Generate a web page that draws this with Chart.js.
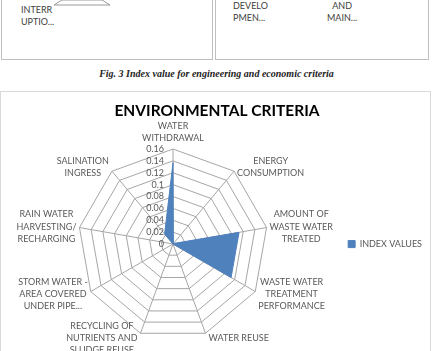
<!DOCTYPE html>
<html>
<head>
<meta charset="utf-8">
<script src="https://cdn.jsdelivr.net/npm/chart.js@4/dist/chart.umd.min.js"></script>
<style>
  body { margin: 0; width: 433px; height: 351px; overflow: hidden; background: #fff; position: relative; font-family: Lato, sans-serif; }
  .prev { position: absolute; top: -10px; height: 70px; border: 1px solid #bfbfbf; box-sizing: border-box; }
  .prev span { position: absolute; font-size: 9px; color: #404040; line-height: 12px; }
  #caption { position: absolute; top: 68px; left: 0; width: 433px; text-align: center; font: italic bold 10px "Liberation Serif", serif; color: #222; }
  #box { position: absolute; left: 0; top: 91px; width: 431px; height: 300px; border: 1px solid #d9d9d9; box-sizing: border-box; }
  #chart { position: absolute; left: -1px; top: -1px; }
</style>
</head>
<body>
<div class="prev" style="left:1px;width:212px;">
  <svg width="212" height="20" style="position:absolute;left:0;top:0">
    <polyline points="52,14 60,9 100,9 108,14 52,14" fill="none" stroke="#999" stroke-width="1"/>
  </svg>
  <span style="left:19px;top:13px;">INTERR<br>UPTIO...</span>
</div>
<div class="prev" style="left:215px;width:214px;">
  <span style="left:17px;top:9px;">DEVELO<br>PMEN...</span>
  <span style="left:111px;top:9px;text-align:center;">AND<br>MAIN...</span>
</div>
<div id="caption">Fig. 3 Index value for engineering and economic criteria</div>
<div id="box"><canvas id="chart" width="433" height="281"></canvas></div>
<script>
const categories = [
  ["WATER", "WITHDRAWAL"],
  ["ENERGY", "CONSUMPTION"],
  ["AMOUNT OF", "WASTE WATER", "TREATED"],
  ["WASTE WATER", "TREATMENT", "PERFORMANCE"],
  ["WATER REUSE"],
  ["RECYCLING OF", "NUTRIENTS AND", "SLUDGE REUSE"],
  ["STORM WATER -", "AREA COVERED", "UNDER PIPE..."],
  ["RAIN WATER", "HARVESTING/", "RECHARGING"],
  ["SALINATION", "INGRESS"]
];
const indexValues = [0.137, 0.001, 0.113, 0.113, 0, 0, 0, 0, 0.022];
const tickLabels = ["0", "0.02", "0.04", "0.06", "0.08", "0.1", "0.12", "0.14", "0.16"];

const textColor = "#595959";
const lineH = 12.2;

// excel style labels: ticks left of the vertical axis, category blocks centred beside each spoke
const excelLabels = {
  id: "excelLabels",
  afterDraw(chart) {
    const r = chart.scales.r;
    const ctx = chart.ctx;
    ctx.save();
    ctx.font = "9px Lato";
    ctx.fillStyle = textColor;
    ctx.textBaseline = "middle";

    ctx.textAlign = "right";
    r.ticks.forEach((t, i) => {
      const d = r.getDistanceFromCenterForValue(t.value);
      ctx.fillText(tickLabels[i], r.xCenter - 9, r.yCenter - d);
    });

    ctx.textAlign = "center";
    chart.data.labels.forEach((lines, i) => {
      const p = r.getPointPosition(i, r.drawingArea);
      const dx = p.x - r.xCenter;
      const dy = p.y - r.yCenter;
      const w = Math.max(...lines.map(s => ctx.measureText(s).width));
      const h = lines.length * lineH;
      let cx, cy;
      if (Math.abs(dx) < 1) {
        cx = p.x;
        cy = dy < 0 ? p.y - 5 - h / 2 : p.y + 5 + h / 2;
      } else {
        cx = dx > 0 ? p.x + 3 + w / 2 : p.x - 3 - w / 2;
        cy = p.y + 5 * dy / r.drawingArea;
      }
      lines.forEach((s, j) => {
        ctx.fillText(s, cx, cy + (j - (lines.length - 1) / 2) * lineH);
      });
    });
    ctx.restore();
  }
};

new Chart(document.getElementById("chart"), {
  type: "radar",
  data: {
    labels: categories,
    datasets: [{
      label: "INDEX VALUES",
      data: indexValues,
      backgroundColor: "#4F81BD",
      borderColor: "#4F81BD",
      borderWidth: 1,
      pointRadius: 0,
      fill: true
    }]
  },
  options: {
    responsive: false,
    animation: false,
    layout: { padding: { left: 2, right: 1, top: 0, bottom: 33 } },
    plugins: {
      title: {
        display: true,
        text: "ENVIRONMENTAL CRITERIA",
        color: "#000",
        font: { family: "Lato", size: 15.5, weight: "bold" },
        padding: { top: 11, bottom: 28.4 }
      },
      legend: {
        position: "right",
        title: { display: true, text: "", font: { size: 1 }, padding: { top: 0, bottom: 57 } },
        labels: {
          boxWidth: 7,
          boxHeight: 7,
          padding: 4,
          color: textColor,
          font: { family: "Lato", size: 9 }
        }
      },
      tooltip: { enabled: false }
    },
    scales: {
      r: {
        min: 0,
        max: 0.16,
        ticks: { stepSize: 0.02, display: false },
        grid: { color: "#a6a6a6", lineWidth: 1 },
        angleLines: { color: "#a6a6a6", lineWidth: 1 },
        pointLabels: { display: false }
      }
    }
  },
  plugins: [excelLabels]
});
</script>
</body>
</html>
